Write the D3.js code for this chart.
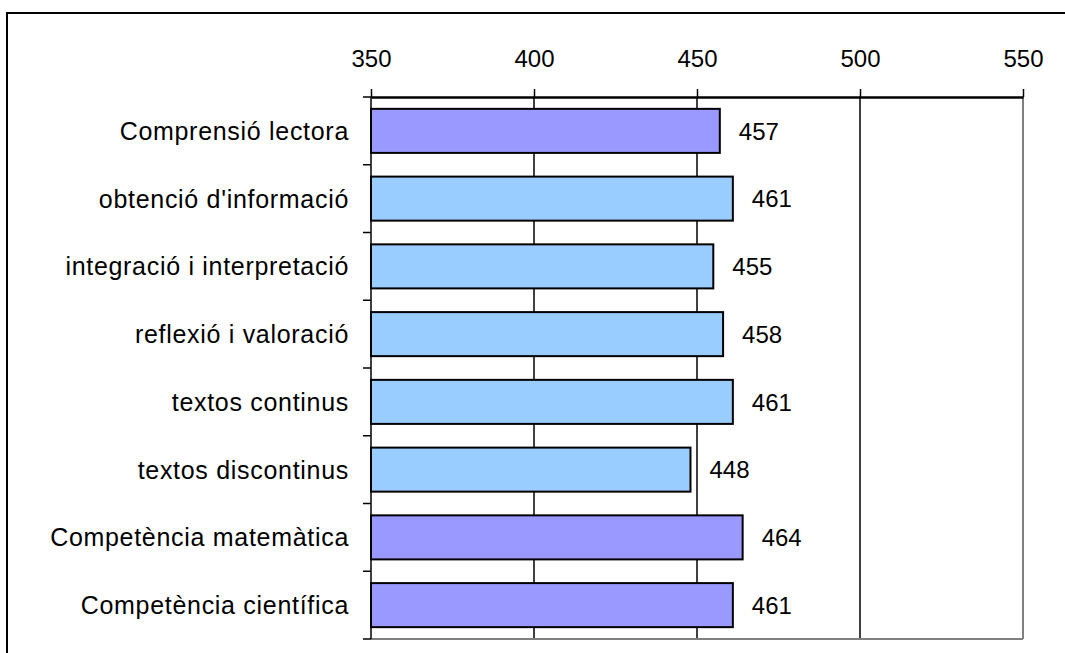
<!DOCTYPE html>
<html>
<head>
<meta charset="utf-8">
<script src="https://cdn.jsdelivr.net/npm/d3@7"></script>
<style>
    html, body { margin: 0; padding: 0; background: #fff; }
    svg { display: block; font-family: "Liberation Sans", Arial, sans-serif; }
</style>
</head>
<body>
<svg id="chart" width="1065" height="653"></svg>
<script>
(function () {
    'use strict';

    var categories = [
        'Comprensió lectora',
        "obtenció d'informació",
        'integració i interpretació',
        'reflexió i valoració',
        'textos continus',
        'textos discontinus',
        'Competència matemàtica',
        'Competència científica'
    ];
    var scores = [457, 461, 455, 458, 461, 448, 464, 461];
    // main competences purple, reading sub-scales light blue
    var isMain = [true, false, false, false, false, false, true, true];
    var xTicks = [350, 400, 450, 500, 550];

    var svg = d3.select('#chart');
    var left = 371, right = 1023, top = 97, bottom = 639;

    var x = d3.scaleLinear().domain([350, 550]).range([left, right]);
    var y = d3.scaleBand().domain(categories).range([top, bottom])
        .paddingInner(0.35).paddingOuter(0.175);

    // outer frame (right/bottom edges fall outside the picture)
    svg.append('rect')
        .attr('x', 7).attr('y', 13)
        .attr('width', 1100).attr('height', 700)
        .attr('fill', 'none')
        .attr('stroke', '#000')
        .attr('stroke-width', 2);

    // vertical gridlines
    svg.selectAll('.grid')
        .data(xTicks.slice(1))
        .enter()
        .append('line')
        .attr('class', 'grid')
        .attr('x1', function (d) { return x(d); })
        .attr('x2', function (d) { return x(d); })
        .attr('y1', top).attr('y2', bottom)
        .attr('stroke', function (d) { return d === 550 ? '#808080' : '#000'; })
        .attr('stroke-width', function (d) { return d === 550 ? 2 : 1.5; });

    // bottom edge of the plot
    svg.append('line')
        .attr('x1', left).attr('x2', right)
        .attr('y1', bottom).attr('y2', bottom)
        .attr('stroke', '#808080')
        .attr('stroke-width', 2);

    // bars
    svg.selectAll('.bar')
        .data(scores)
        .enter()
        .append('rect')
        .attr('class', 'bar')
        .attr('x', x(350))
        .attr('y', function (d, i) { return y(categories[i]); })
        .attr('width', function (d) { return x(d) - x(350); })
        .attr('height', y.bandwidth())
        .attr('fill', function (d, i) { return isMain[i] ? '#9999ff' : '#99ccff'; })
        .attr('stroke', '#000')
        .attr('stroke-width', 2);

    // value labels
    svg.selectAll('.val')
        .data(scores)
        .enter()
        .append('text')
        .attr('class', 'val')
        .attr('x', function (d) { return x(d) + 19; })
        .attr('y', function (d, i) { return y(categories[i]) + y.bandwidth() / 2; })
        .attr('dy', '0.36em')
        .attr('font-size', 24)
        .attr('fill', '#000')
        .text(function (d) { return d; });

    // top axis
    var xAxis = d3.axisTop(x)
        .tickValues(xTicks)
        .tickSizeInner(8)
        .tickSizeOuter(0)
        .tickPadding(22)
        .tickFormat(d3.format('d'));
    var gx = svg.append('g')
        .attr('transform', 'translate(0,' + top + ')')
        .call(xAxis);
    gx.select('.domain').attr('stroke', '#000').attr('stroke-width', 2.5);
    gx.selectAll('.tick line').attr('stroke', '#000').attr('stroke-width', 1.5);
    gx.selectAll('.tick text')
        .attr('font-size', 24)
        .attr('font-family', '"Liberation Sans", Arial, sans-serif')
        .attr('fill', '#000');

    // left axis: line + ticks at band boundaries
    var step = y.step();
    var bounds = categories.map(function (c) { return y(c) - step * 0.175; });
    bounds.push(bottom);
    svg.append('line')
        .attr('x1', left).attr('x2', left)
        .attr('y1', top).attr('y2', bottom)
        .attr('stroke', '#000')
        .attr('stroke-width', 1.5);
    svg.selectAll('.ytick')
        .data(bounds)
        .enter()
        .append('line')
        .attr('class', 'ytick')
        .attr('x1', left - 8).attr('x2', left)
        .attr('y1', function (d) { return d; })
        .attr('y2', function (d) { return d; })
        .attr('stroke', '#000')
        .attr('stroke-width', 1.5);

    // category labels
    svg.selectAll('.cat')
        .data(categories)
        .enter()
        .append('text')
        .attr('class', 'cat')
        .attr('x', 349)
        .attr('y', function (d) { return y(d) + y.bandwidth() / 2; })
        .attr('dy', '0.36em')
        .attr('text-anchor', 'end')
        .attr('font-size', 25)
        .attr('letter-spacing', 0.7)
        .attr('fill', '#000')
        .text(function (d) { return d; });
}());
</script>
</body>
</html>
